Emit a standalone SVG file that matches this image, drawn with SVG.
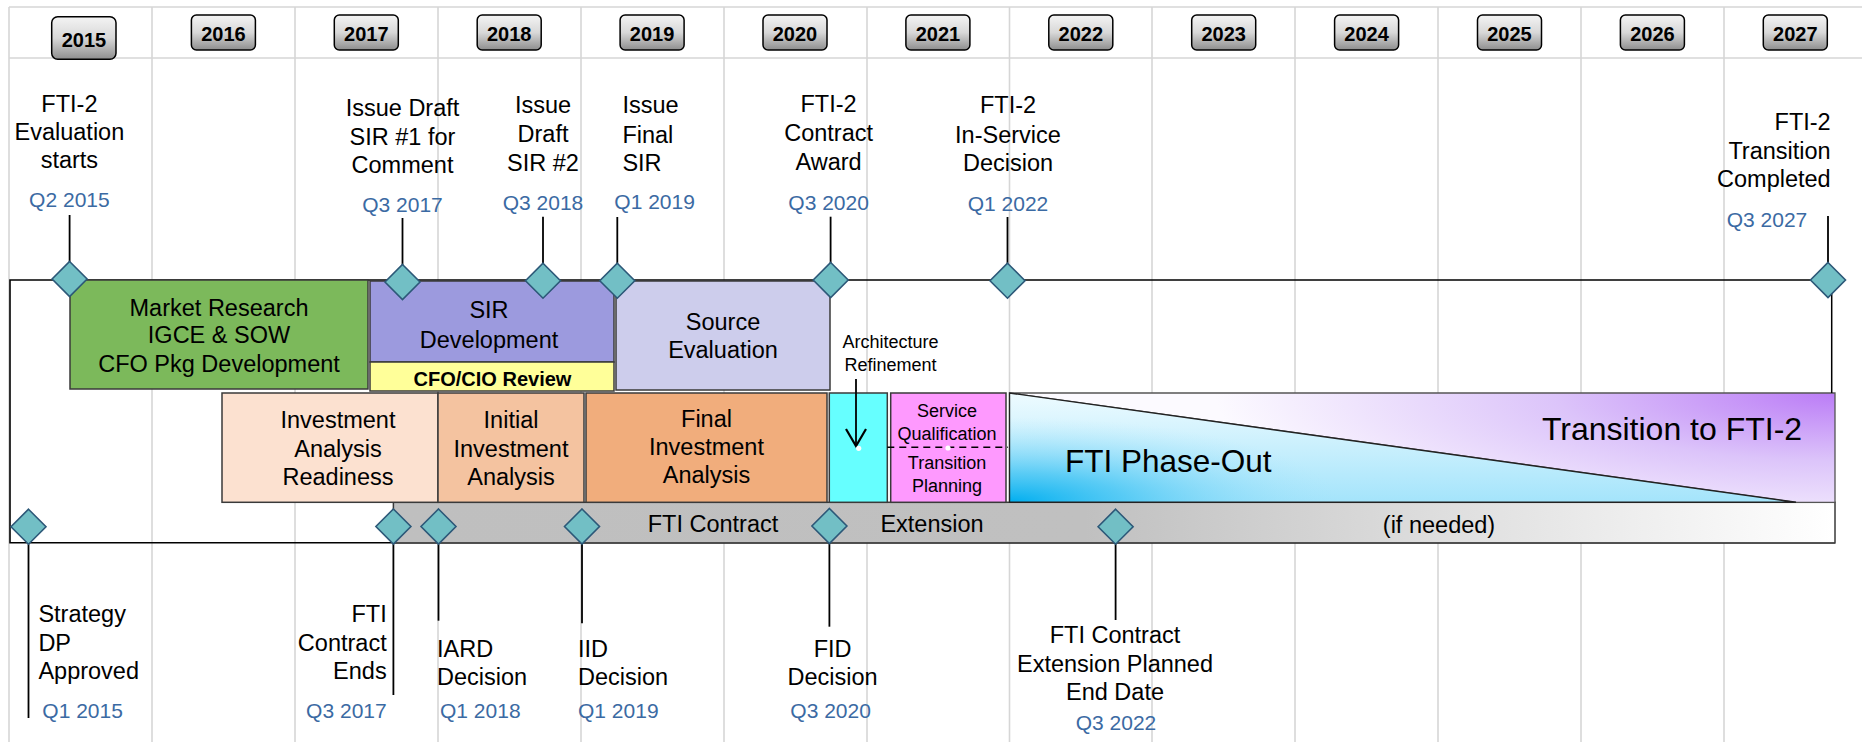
<svg xmlns="http://www.w3.org/2000/svg" xmlns:xlink="http://www.w3.org/1999/xlink" width="1862" height="742" viewBox="0 0 1862 742">
<defs>
<style>
text{font-family:"Liberation Sans",Arial,sans-serif;fill:#000}
.lb{font-size:23.5px}
.q{font-size:21px;fill:#3b6aa3}
.yr{font-size:20px;font-weight:bold}
.bx{font-size:23.5px}
.sm{font-size:18px}
.m{text-anchor:middle}
.e{text-anchor:end}
.grid{stroke:#d6d6d6;stroke-width:1.6;fill:none}
.ln{stroke:#000;stroke-width:1.8;fill:none}
.box{stroke:#3a3a3a;stroke-width:1.5}
.ybox{fill:url(#yg);stroke:#000;stroke-width:1.5}
</style>
<linearGradient id="yg" x1="0" y1="0" x2="0" y2="1">
<stop offset="0" stop-color="#f4f4f4"/><stop offset="0.5" stop-color="#d8d8d8"/><stop offset="1" stop-color="#8e8e8e"/>
</linearGradient>
<linearGradient id="barg" gradientUnits="userSpaceOnUse" x1="393" y1="0" x2="1835" y2="0">
<stop offset="0" stop-color="#bfbfbf"/><stop offset="0.48" stop-color="#c0c0c0"/><stop offset="1" stop-color="#ffffff"/>
</linearGradient>
<linearGradient id="fog" gradientUnits="userSpaceOnUse" x1="0" y1="502" x2="0" y2="393">
<stop offset="0" stop-color="#a4e4fb"/><stop offset="1" stop-color="#eefbff"/>
</linearGradient>
<radialGradient id="foc" gradientUnits="userSpaceOnUse" cx="0" cy="0" r="1" gradientTransform="translate(1009.5,502.3) scale(330,85)">
<stop offset="0" stop-color="#00aeef" stop-opacity="1"/><stop offset="0.35" stop-color="#3cc2f3" stop-opacity="0.75"/><stop offset="1" stop-color="#a4e4fb" stop-opacity="0"/>
</radialGradient>
<radialGradient id="trg" gradientUnits="userSpaceOnUse" cx="0" cy="0" r="1" gradientTransform="translate(1835,393) scale(620,150)">
<stop offset="0" stop-color="#bb7cf6"/><stop offset="0.45" stop-color="#dcc4fa"/><stop offset="1" stop-color="#fcfaff"/>
</radialGradient>
<polygon id="dm" points="0,-17.5 17.5,0 0,17.5 -17.5,0" fill="#72bfc5" stroke="#2c5878" stroke-width="1.6"/>
<marker id="ah" markerWidth="22" markerHeight="24" refX="18" refY="11" orient="auto" markerUnits="userSpaceOnUse">
<path d="M1,1 L18,11 L1,21" fill="none" stroke="#000" stroke-width="2.2"/>
</marker>
</defs>
<rect x="0" y="0" width="1862" height="742" fill="#fff"/>

<g id="grid">
<line class="grid" x1="9" y1="7" x2="1862" y2="7"/>
<line class="grid" x1="9" y1="58" x2="1862" y2="58"/>
<line class="grid" x1="9" y1="7" x2="9" y2="742"/>
<line class="grid" x1="152" y1="7" x2="152" y2="742"/>
<line class="grid" x1="295" y1="7" x2="295" y2="742"/>
<line class="grid" x1="438" y1="7" x2="438" y2="742"/>
<line class="grid" x1="581" y1="7" x2="581" y2="742"/>
<line class="grid" x1="724" y1="7" x2="724" y2="742"/>
<line class="grid" x1="867" y1="7" x2="867" y2="742"/>
<line class="grid" x1="1009.5" y1="7" x2="1009.5" y2="742"/>
<line class="grid" x1="1152" y1="7" x2="1152" y2="742"/>
<line class="grid" x1="1295" y1="7" x2="1295" y2="742"/>
<line class="grid" x1="1438" y1="7" x2="1438" y2="742"/>
<line class="grid" x1="1581" y1="7" x2="1581" y2="742"/>
<line class="grid" x1="1724" y1="7" x2="1724" y2="742"/>
</g>

<g id="years">
<g id="y2015"><rect class="ybox" x="51.7" y="16.7" width="64.3" height="42.6" rx="6"/><text class="yr m" x="84" y="46.7">2015</text></g>
<g id="y2016"><rect class="ybox" x="191.4" y="15" width="64" height="35" rx="5"/><text class="yr m" x="223.4" y="40.7">2016</text></g>
<g id="y2017"><rect class="ybox" x="334.3" y="15" width="64" height="35" rx="5"/><text class="yr m" x="366.3" y="40.7">2017</text></g>
<g id="y2018"><rect class="ybox" x="477.2" y="15" width="64" height="35" rx="5"/><text class="yr m" x="509.2" y="40.7">2018</text></g>
<g id="y2019"><rect class="ybox" x="620.1" y="15" width="64" height="35" rx="5"/><text class="yr m" x="652.1" y="40.7">2019</text></g>
<g id="y2020"><rect class="ybox" x="763" y="15" width="64" height="35" rx="5"/><text class="yr m" x="795" y="40.7">2020</text></g>
<g id="y2021"><rect class="ybox" x="905.9" y="15" width="64" height="35" rx="5"/><text class="yr m" x="937.9" y="40.7">2021</text></g>
<g id="y2022"><rect class="ybox" x="1048.8" y="15" width="64" height="35" rx="5"/><text class="yr m" x="1080.8" y="40.7">2022</text></g>
<g id="y2023"><rect class="ybox" x="1191.7" y="15" width="64" height="35" rx="5"/><text class="yr m" x="1223.7" y="40.7">2023</text></g>
<g id="y2024"><rect class="ybox" x="1334.6" y="15" width="64" height="35" rx="5"/><text class="yr m" x="1366.6" y="40.7">2024</text></g>
<g id="y2025"><rect class="ybox" x="1477.5" y="15" width="64" height="35" rx="5"/><text class="yr m" x="1509.5" y="40.7">2025</text></g>
<g id="y2026"><rect class="ybox" x="1620.4" y="15" width="64" height="35" rx="5"/><text class="yr m" x="1652.4" y="40.7">2026</text></g>
<g id="y2027"><rect class="ybox" x="1763.3" y="15" width="64" height="35" rx="5"/><text class="yr m" x="1795.3" y="40.7">2027</text></g>
</g>

<g id="frame">
<path d="M1828,280 H10 V542.7 H1835" fill="none" stroke="#000" stroke-width="1.6"/>
</g>

<g id="bar">
<rect x="393.4" y="502.3" width="1441.6" height="40.6" fill="url(#barg)" stroke="#3a3a3a" stroke-width="1.5"/>
<text class="bx m" x="713" y="531.7">FTI Contract</text>
<text class="bx m" x="932" y="531.7">Extension</text>
<text class="bx m" x="1439" y="533">(if needed)</text>
</g>

<g id="market-research">
<rect class="box" x="70" y="280" width="298" height="109" fill="#7cb95b"/>
<text class="bx m" x="219" y="316">Market Research</text>
<text class="bx m" x="219" y="343.3">IGCE &amp; SOW</text>
<text class="bx m" x="219" y="371.7">CFO Pkg Development</text>
</g>
<g id="sir-development">
<rect class="box" x="370" y="281" width="244" height="81" fill="#9c9ade"/>
<text class="bx m" x="489" y="318.3">SIR</text>
<text class="bx m" x="489" y="348.3">Development</text>
</g>
<g id="cfo-cio-review">
<rect class="box" x="370" y="362" width="244" height="29" fill="#ffff99"/>
<text class="m" x="492.5" y="385.7" style="font-size:20px;font-weight:bold">CFO/CIO Review</text>
</g>
<g id="source-evaluation">
<rect class="box" x="616" y="281" width="214" height="109" fill="#cdcdec"/>
<text class="bx m" x="723" y="330">Source</text>
<text class="bx m" x="723" y="358.3">Evaluation</text>
</g>
<g id="iar">
<rect class="box" x="222" y="393" width="216" height="109.3" fill="#fce1d0"/>
<text class="bx m" x="338" y="428.3">Investment</text>
<text class="bx m" x="338" y="456.7">Analysis</text>
<text class="bx m" x="338" y="485">Readiness</text>
</g>
<g id="iia">
<rect class="box" x="438" y="393" width="146" height="109.3" fill="#f4c3a0"/>
<text class="bx m" x="511" y="428.3">Initial</text>
<text class="bx m" x="511" y="456.7">Investment</text>
<text class="bx m" x="511" y="485">Analysis</text>
</g>
<g id="fia">
<rect class="box" x="586" y="393" width="241" height="109.3" fill="#f1ad7c"/>
<text class="bx m" x="706.5" y="426.7">Final</text>
<text class="bx m" x="706.5" y="455">Investment</text>
<text class="bx m" x="706.5" y="483.3">Analysis</text>
</g>
<g id="architecture-refinement">
<rect class="box" x="829.3" y="393" width="58" height="109.3" fill="#66ffff"/>
<text class="sm m" x="890.5" y="348.3">Architecture</text>
<text class="sm m" x="890.5" y="371">Refinement</text>
</g>
<g id="service-qualification">
<rect class="box" x="890.7" y="393" width="115.3" height="109.3" fill="#fe99fe"/>
<line x1="887.3" y1="447.3" x2="1008" y2="447.3" stroke="#000" stroke-width="1.5" stroke-dasharray="7,5"/>
<text class="sm m" x="947" y="416.7">Service</text>
<text class="sm m" x="947" y="440">Qualification</text>
<text class="sm m" x="947" y="469.3">Transition</text>
<text class="sm m" x="947" y="491.7">Planning</text>
</g>
<g id="transition">
<polygon points="1009.5,393 1835,393 1835,502.3 1796,502.3" fill="url(#trg)" stroke="#555" stroke-width="1.3"/>
<text class="m" x="1672" y="440" style="font-size:32px">Transition to FTI-2</text>
</g>
<g id="phase-out">
<polygon points="1009.5,393 1796,502.3 1009.5,502.3" fill="url(#fog)"/>
<polygon points="1009.5,393 1796,502.3 1009.5,502.3" fill="url(#foc)" stroke="#222" stroke-width="1.4"/>
<text x="1065" y="472.3" style="font-size:31.5px">FTI Phase-Out</text>
</g>

<g id="connectors">
<line class="ln" x1="856" y1="379" x2="856" y2="446" marker-end="url(#ah)"/>
<line class="ln" x1="69.6" y1="215" x2="69.6" y2="280"/>
<line class="ln" x1="402.5" y1="218" x2="402.5" y2="282"/>
<line class="ln" x1="543" y1="216.7" x2="543" y2="281"/>
<line class="ln" x1="617.3" y1="217" x2="617.3" y2="281"/>
<line class="ln" x1="830.6" y1="216.7" x2="830.6" y2="280"/>
<line class="ln" x1="1007.5" y1="217" x2="1007.5" y2="281"/>
<line class="ln" x1="1828" y1="216" x2="1828" y2="280"/>
<line class="ln" x1="1831.7" y1="290" x2="1831.7" y2="393" style="stroke-width:1.5"/>
<line class="ln" x1="28.5" y1="527" x2="28.5" y2="718"/>
<line class="ln" x1="393.4" y1="527" x2="393.4" y2="695"/>
<line class="ln" x1="438.5" y1="527" x2="438.5" y2="620.7"/>
<line class="ln" x1="582" y1="527" x2="582" y2="623.3"/>
<line class="ln" x1="829.4" y1="527" x2="829.4" y2="626.7"/>
<line class="ln" x1="1115.6" y1="527" x2="1115.6" y2="620"/>
<circle cx="858.7" cy="448.3" r="2.6" fill="#fff"/>
<circle cx="948" cy="448" r="2.6" fill="#fff"/>
</g>

<g id="milestones">
<use href="#dm" x="69.6" y="279"/>
<use href="#dm" x="402.5" y="282"/>
<use href="#dm" x="543" y="280.7"/>
<use href="#dm" x="617.3" y="280.7"/>
<use href="#dm" x="830.7" y="280"/>
<use href="#dm" x="1007.5" y="280.7"/>
<use href="#dm" x="1828" y="280"/>
<use href="#dm" x="28.5" y="526.7"/>
<use href="#dm" x="393.4" y="526.5"/>
<use href="#dm" x="438.5" y="526.5"/>
<use href="#dm" x="582" y="526.5"/>
<use href="#dm" x="829.4" y="526"/>
<use href="#dm" x="1115.6" y="526.7"/>
</g>

<g id="labels-top">
<g id="m-eval-start"><text class="lb m" x="69.4" y="111.7">FTI-2</text><text class="lb m" x="69.4" y="140">Evaluation</text><text class="lb m" x="69.4" y="168.3">starts</text><text class="q m" x="69.4" y="206.7">Q2 2015</text></g>
<g id="m-draft1"><text class="lb m" x="402.5" y="116">Issue Draft</text><text class="lb m" x="402.5" y="145">SIR #1 for</text><text class="lb m" x="402.5" y="172.7">Comment</text><text class="q m" x="402.5" y="211.7">Q3 2017</text></g>
<g id="m-draft2"><text class="lb m" x="543" y="113.3">Issue</text><text class="lb m" x="543" y="141.7">Draft</text><text class="lb m" x="543" y="170.7">SIR #2</text><text class="q m" x="543" y="210">Q3 2018</text></g>
<g id="m-final"><text class="lb" x="622.4" y="113.3">Issue</text><text class="lb" x="622.4" y="142.7">Final</text><text class="lb" x="622.4" y="170.7">SIR</text><text class="q" x="614.3" y="209.3">Q1 2019</text></g>
<g id="m-award"><text class="lb m" x="828.6" y="111.7">FTI-2</text><text class="lb m" x="828.6" y="141">Contract</text><text class="lb m" x="828.6" y="170">Award</text><text class="q m" x="828.6" y="210">Q3 2020</text></g>
<g id="m-inservice"><text class="lb m" x="1008" y="113.3">FTI-2</text><text class="lb m" x="1008" y="142.7">In-Service</text><text class="lb m" x="1008" y="170.7">Decision</text><text class="q m" x="1008" y="211">Q1 2022</text></g>
<g id="m-complete"><text class="lb e" x="1830.7" y="130">FTI-2</text><text class="lb e" x="1830.7" y="158.5">Transition</text><text class="lb e" x="1830.7" y="187">Completed</text><text class="q" x="1726.7" y="227">Q3 2027</text></g>
</g>

<g id="labels-bottom">
<g id="m-strategy"><text class="lb" x="38.4" y="621.7">Strategy</text><text class="lb" x="38.4" y="650.7">DP</text><text class="lb" x="38.4" y="679">Approved</text><text class="q" x="42.3" y="718.3">Q1 2015</text></g>
<g id="m-fti-ends"><text class="lb e" x="386.7" y="621.7">FTI</text><text class="lb e" x="386.7" y="650.7">Contract</text><text class="lb e" x="386.7" y="679">Ends</text><text class="q e" x="386.7" y="718.3">Q3 2017</text></g>
<g id="m-iard"><text class="lb" x="437" y="656.7">IARD</text><text class="lb" x="437" y="685">Decision</text><text class="q" x="440" y="718.3">Q1 2018</text></g>
<g id="m-iid"><text class="lb" x="578" y="656.7">IID</text><text class="lb" x="578" y="685">Decision</text><text class="q" x="578" y="718.3">Q1 2019</text></g>
<g id="m-fid"><text class="lb m" x="832.6" y="656.7">FID</text><text class="lb m" x="832.6" y="685">Decision</text><text class="q m" x="830.6" y="718.3">Q3 2020</text></g>
<g id="m-ext-end"><text class="lb m" x="1115" y="643.3">FTI Contract</text><text class="lb m" x="1115" y="671.7">Extension Planned</text><text class="lb m" x="1115" y="700">End Date</text><text class="q m" x="1116" y="730">Q3 2022</text></g>
</g>
</svg>
